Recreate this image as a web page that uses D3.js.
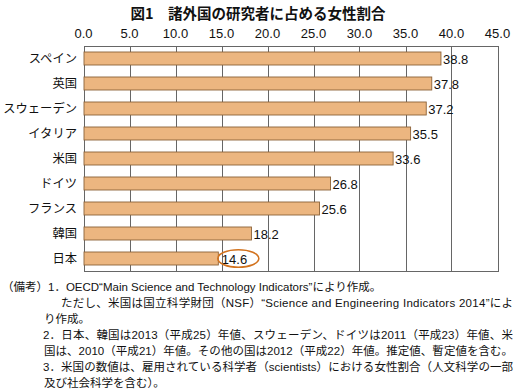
<!DOCTYPE html>
<html>
<head>
<meta charset="utf-8">
<script src="https://cdn.jsdelivr.net/npm/d3@7"></script>
<style>
  body { margin: 0; background: #fff; }
  svg { display: block; font-family: "Liberation Sans", "Noto Sans CJK JP", sans-serif; }
</style>
</head>
<body>
<div id="chart"></div>
<script>
// 諸外国の研究者に占める女性割合
const countries = ['スペイン', '英国', 'スウェーデン', 'イタリア', '米国', 'ドイツ', 'フランス', '韓国', '日本'];
const shares = [38.8, 37.8, 37.2, 35.5, 33.6, 26.8, 25.6, 18.2, 14.6];
const tickValues = [0, 5, 10, 15, 20, 25, 30, 35, 40, 45];
const highlight = '日本';

const titleText = '図1　諸外国の研究者に占める女性割合';
const notes = [
    { x: 2, text: '（備考）1．OECD“Main Science and Technology Indicators”により作成。', full: false },
    { x: 61, text: 'ただし、米国は国立科学財団（NSF）“Science and Engineering Indicators 2014”によ', full: true },
    { x: 44, text: 'り作成。', full: false },
    { x: 43, text: '2．日本、韓国は2013（平成25）年値、スウェーデン、ドイツは2011（平成23）年値、米', full: true },
    { x: 44, text: '国は、2010（平成21）年値。その他の国は2012（平成22）年値。推定値、暫定値を含む。', full: true },
    { x: 43, text: '3．米国の数値は、雇用されている科学者（scientists）における女性割合（人文科学の一部', full: true },
    { x: 44, text: '及び社会科学を含む）。', full: false }
];

const width = 516, height = 391;
const plot = { left: 83.5, right: 497.5, top: 46, bottom: 271 };

const svg = d3.select('#chart').append('svg')
    .attr('width', width)
    .attr('height', height);

const x = d3.scaleLinear().domain([0, 45]).range([plot.left, plot.right]);
const y = d3.scaleBand().domain(countries).range([plot.top, plot.bottom]).paddingInner(0.48).paddingOuter(0.24);

// タイトル
svg.append('text')
    .attr('x', 258)
    .attr('y', 19)
    .attr('text-anchor', 'middle')
    .style('font-family', '"Noto Sans CJK JP", sans-serif')
    .style('font-size', '14.5px')
    .style('font-weight', 'bold')
    .style('fill', '#111')
    .text(titleText);

// 目盛ラベル（上側）
svg.append('g')
    .selectAll('text')
    .data(tickValues)
    .enter().append('text')
    .attr('x', d => x(d))
    .attr('y', 38)
    .attr('text-anchor', 'middle')
    .style('font-size', '13px')
    .style('fill', '#111')
    .text(d => d.toFixed(1));

// 縦グリッド
svg.append('g')
    .selectAll('line')
    .data(tickValues)
    .enter().append('line')
    .attr('x1', d => Math.round(x(d)) + 0.5)
    .attr('x2', d => Math.round(x(d)) + 0.5)
    .attr('y1', plot.top)
    .attr('y2', plot.bottom)
    .attr('stroke', '#666')
    .attr('stroke-width', 1);

// 枠
svg.append('rect')
    .attr('x', Math.round(plot.left) + 0.5)
    .attr('y', plot.top + 0.5)
    .attr('width', Math.round(plot.right) - Math.round(plot.left))
    .attr('height', plot.bottom - plot.top)
    .attr('fill', 'none')
    .attr('stroke', '#666');

// 棒
svg.append('g')
    .selectAll('rect')
    .data(countries)
    .enter().append('rect')
    .attr('x', x(0) + 0.5)
    .attr('y', d => y(d))
    .attr('width', (d, i) => x(shares[i]) - x(0))
    .attr('height', y.bandwidth())
    .attr('fill', '#ecb680')
    .attr('stroke', '#8c6238')
    .attr('stroke-width', 0.9);

// 国名
svg.append('g')
    .selectAll('text')
    .data(countries)
    .enter().append('text')
    .attr('x', 77)
    .attr('y', d => y(d) + y.bandwidth() / 2 + 4.5)
    .attr('text-anchor', 'end')
    .style('font-family', '"Noto Sans CJK JP", sans-serif')
    .style('font-size', '12.3px')
    .style('fill', '#111')
    .text(d => d);

// 数値ラベル
svg.append('g')
    .selectAll('text')
    .data(countries)
    .enter().append('text')
    .attr('x', (d, i) => x(shares[i]) + (countries[i] === highlight ? 4 : 2.5))
    .attr('y', d => y(d) + y.bandwidth() / 2 + 5)
    .style('font-size', '13px')
    .style('fill', '#111')
    .text((d, i) => shares[i].toFixed(1));

// 日本を丸で囲む
const hi = countries.indexOf(highlight);
svg.append('ellipse')
    .attr('cx', x(shares[hi]) + 20.5)
    .attr('cy', y(highlight) + y.bandwidth() / 2)
    .attr('rx', 20.5)
    .attr('ry', 8.7)
    .attr('fill', 'none')
    .attr('stroke', '#d2731f')
    .attr('stroke-width', 1.6);

// 備考
const noteG = svg.append('g')
    .style('font-family', '"Liberation Sans", "Noto Sans CJK JP", sans-serif')
    .style('font-size', '11.5px')
    .style('fill', '#111');

notes.forEach((n, i) => {
    const t = noteG.append('text')
        .attr('x', n.x)
        .attr('y', 291 + i * 16)
        .text(n.text);
    if (n.full) {
        t.attr('textLength', 513 - n.x).attr('lengthAdjust', 'spacing');
    }
});
</script>
</body>
</html>
